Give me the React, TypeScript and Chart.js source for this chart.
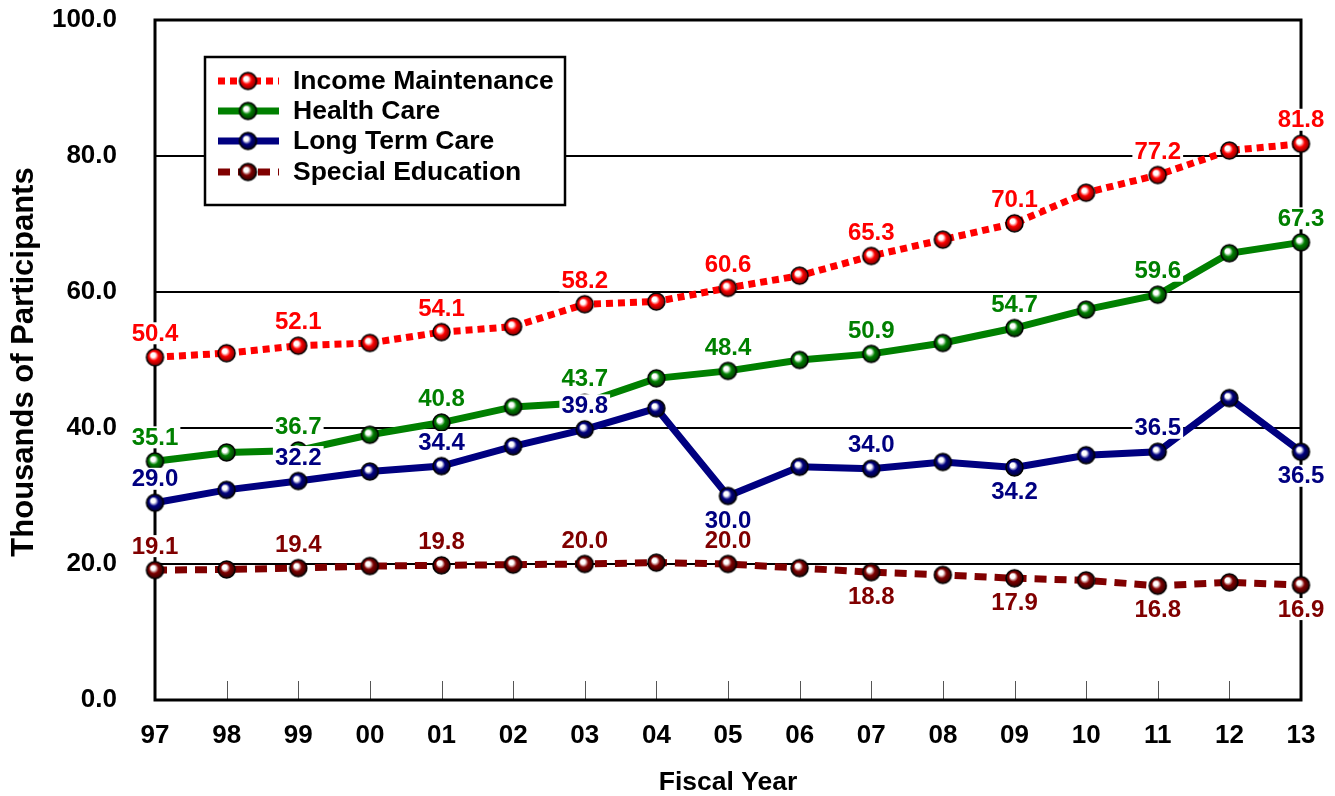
import React, { useEffect, useRef } from 'react';
import { Chart, registerables } from 'chart.js';

Chart.register(...registerables);

const FONT = "'Liberation Sans', Arial, sans-serif";

// ---- data ----
const fiscalYears = ['97', '98', '99', '00', '01', '02', '03', '04', '05', '06', '07', '08', '09', '10', '11', '12', '13'];
const incomeMaintenance = [50.4, 51.0, 52.1, 52.5, 54.1, 54.9, 58.2, 58.6, 60.6, 62.4, 65.3, 67.7, 70.1, 74.6, 77.2, 80.8, 81.8];
const healthCare = [35.1, 36.4, 36.7, 39.0, 40.8, 43.1, 43.7, 47.3, 48.4, 50.0, 50.9, 52.5, 54.7, 57.4, 59.6, 65.7, 67.3];
const longTermCare = [29.0, 30.9, 32.2, 33.6, 34.4, 37.3, 39.8, 42.9, 30.0, 34.3, 34.0, 35.0, 34.2, 36.0, 36.5, 44.4, 36.5];
const specialEducation = [19.1, 19.2, 19.4, 19.7, 19.8, 19.9, 20.0, 20.2, 20.0, 19.4, 18.8, 18.4, 17.9, 17.6, 16.8, 17.3, 16.9];
const yTickValues = [0, 20, 40, 60, 80, 100];

// label placement: 'a' = above point, 'b' = below point, '' = none
const imLabelPlace = ['a', '', 'a', '', 'a', '', 'a', '', 'a', '', 'a', '', 'a', '', 'a', '', 'a'];
const hcLabelPlace = ['a', '', 'a', '', 'a', '', 'a', '', 'a', '', 'a', '', 'a', '', 'a', '', 'a'];
const ltcLabelPlace = ['a', '', 'a', '', 'a', '', 'a', '', 'b', '', 'a', '', 'b', '', 'a', '', 'b'];
const seLabelPlace = ['a', '', 'a', '', 'a', '', 'a', '', 'a', '', 'b', '', 'b', '', 'b', '', 'b'];

const seriesDefs = [
  { label: 'Income Maintenance', data: incomeMaintenance, color: '#ff0000', dark: '#7a0000', dash: [7, 5], place: imLabelPlace },
  { label: 'Health Care', data: healthCare, color: '#008000', dark: '#003300', dash: [], place: hcLabelPlace },
  { label: 'Long Term Care', data: longTermCare, color: '#000080', dark: '#000030', dash: [], place: ltcLabelPlace },
  { label: 'Special Education', data: specialEducation, color: '#800000', dark: '#300000', dash: [12, 8], place: seLabelPlace },
];

// target plot-area frame
const TARGET = { left: 155, top: 20, right: 1301, bottom: 700 };

function makeBall(color: string, dark: string, r: number): HTMLCanvasElement {
  const c = document.createElement('canvas');
  const s = Math.ceil(r * 2 + 4);
  c.width = s;
  c.height = s;
  const ctx = c.getContext('2d')!;
  const cx = s / 2;
  const cy = s / 2;
  const g = ctx.createRadialGradient(cx - r * 0.3, cy - r * 0.35, 0, cx, cy, r);
  g.addColorStop(0, '#ffffff');
  g.addColorStop(0.28, '#ffffff');
  g.addColorStop(0.55, color);
  g.addColorStop(1, dark);
  ctx.beginPath();
  ctx.arc(cx, cy, r, 0, Math.PI * 2);
  ctx.fillStyle = g;
  ctx.fill();
  ctx.lineWidth = 1.5;
  ctx.strokeStyle = '#000';
  ctx.stroke();
  return c;
}

export default function App() {
  const ref = useRef<HTMLCanvasElement>(null);

  useEffect(() => {
    const canvas = ref.current!;
    const balls = seriesDefs.map((s) => makeBall(s.color, s.dark, 8.5));

    const datasets = seriesDefs.map((s, i) => ({
      label: s.label,
      data: s.data,
      borderColor: s.color,
      backgroundColor: s.color,
      borderWidth: 7,
      borderDash: s.dash,
      borderCapStyle: 'butt' as const,
      pointStyle: balls[i],
      pointRadius: 9,
      pointHoverRadius: 9,
      tension: 0,
      fill: false,
      clip: false as any,
    }));

    const overlay = {
      id: 'overlay',
      beforeDatasetsDraw(chart: any) {
        const { ctx, chartArea: a } = chart;
        const xs = chart.scales.x;
        ctx.save();
        ctx.strokeStyle = '#555';
        ctx.lineWidth = 1;
        for (let i = 1; i < fiscalYears.length - 1; i++) {
          const x = Math.round(xs.getPixelForValue(i)) + 0.5;
          ctx.beginPath();
          ctx.moveTo(x, a.bottom - 19);
          ctx.lineTo(x, a.bottom);
          ctx.stroke();
        }
        ctx.strokeStyle = '#000';
        ctx.lineWidth = 3;
        ctx.strokeRect(a.left, a.top, a.right - a.left, a.bottom - a.top);
        ctx.restore();
      },
      afterDatasetsDraw(chart: any) {
        const { ctx } = chart;
        ctx.save();
        ctx.font = `bold 24px ${FONT}`;
        ctx.textAlign = 'center';
        ctx.textBaseline = 'middle';
        seriesDefs.forEach((s, di) => {
          const meta = chart.getDatasetMeta(di);
          s.place.forEach((p, i) => {
            if (!p) return;
            const pt = meta.data[i];
            const txt = s.data[i].toFixed(1);
            const w = ctx.measureText(txt).width;
            const x = pt.x;
            const y = pt.y + (p === 'a' ? -24 : 24);
            ctx.fillStyle = '#ffffff';
            ctx.fillRect(x - w / 2 - 2, y - 11, w + 4, 22);
            ctx.fillStyle = s.color;
            ctx.fillText(txt, x, y + 1);
          });
        });

        const bx = 205, by = 57, bw = 360, bh = 148;
        ctx.fillStyle = '#fff';
        ctx.fillRect(bx, by, bw, bh);
        ctx.strokeStyle = '#000';
        ctx.lineWidth = 2.5;
        ctx.strokeRect(bx, by, bw, bh);
        ctx.font = `bold 26.5px ${FONT}`;
        ctx.textAlign = 'left';
        ctx.textBaseline = 'middle';
        const rows = [81, 111, 141, 172];
        seriesDefs.forEach((s, i) => {
          const y = rows[i];
          ctx.save();
          ctx.strokeStyle = s.color;
          ctx.lineWidth = 7;
          ctx.setLineDash(s.dash);
          ctx.beginPath();
          ctx.moveTo(218, y);
          ctx.lineTo(279, y);
          ctx.stroke();
          ctx.restore();
          const b = balls[i];
          ctx.drawImage(b, 248 - b.width / 2, y - b.height / 2);
          ctx.fillStyle = '#000';
          ctx.fillText(s.label, 293, y + 1);
        });
        ctx.restore();
      },
      afterDraw(chart: any) {
        const { ctx, chartArea: a } = chart;
        ctx.save();
        ctx.fillStyle = '#000';
        ctx.font = `bold 31px ${FONT}`;
        ctx.textAlign = 'center';
        ctx.textBaseline = 'middle';
        ctx.translate(24, 362);
        ctx.rotate(-Math.PI / 2);
        ctx.fillText('Thousands of Participants', 0, 0);
        ctx.restore();
        ctx.save();
        ctx.fillStyle = '#000';
        ctx.font = `bold 26.5px ${FONT}`;
        ctx.textAlign = 'center';
        ctx.textBaseline = 'alphabetic';
        ctx.fillText('Fiscal Year', (a.left + a.right) / 2, 790);
        ctx.restore();
      },
    };

    const padding = { top: 20, right: 34, left: 0, bottom: 0 };

    const chart = new Chart(canvas, {
      type: 'line',
      data: { labels: fiscalYears, datasets },
      options: {
        animation: false,
        responsive: false,
        events: [],
        layout: { padding },
        plugins: { legend: { display: false }, tooltip: { enabled: false } },
        scales: {
          x: {
            offset: false,
            grid: { display: false, drawTicks: false },
            border: { display: false },
            ticks: {
              font: { family: FONT, size: 26, weight: 'bold' },
              color: '#000',
              padding: 20,
              maxRotation: 0,
              autoSkip: false,
            },
            afterFit(s: any) {
              s.height = 96;
              s.paddingLeft = 0;
              s.paddingRight = 0;
            },
          },
          y: {
            min: 0,
            max: 100,
            afterBuildTicks(s: any) {
              s.ticks = yTickValues.map((v) => ({ value: v }));
            },
            grid: {
              color: (c: any) => (c.tick && c.tick.value > 0 && c.tick.value < 100 ? '#000' : 'rgba(0,0,0,0)'),
              lineWidth: 2,
              drawTicks: false,
            },
            border: { display: false },
            ticks: {
              callback: (v: any) => Number(v).toFixed(1),
              font: { family: FONT, size: 26, weight: 'bold' },
              color: '#000',
              padding: 38,
            },
            afterFit(s: any) {
              s.width = 155;
              s.paddingTop = 0;
              s.paddingBottom = 0;
            },
          },
        },
      },
      plugins: [overlay],
    });

    // nudge layout padding so the plot frame lands exactly where the reference has it
    for (let k = 0; k < 4; k++) {
      const a = chart.chartArea;
      const dTop = a.top - TARGET.top;
      const dRight = a.right - TARGET.right;
      if (Math.abs(dTop) < 0.5 && Math.abs(dRight) < 0.5) break;
      padding.top -= dTop;
      padding.right += dRight;
      (chart.options as any).layout.padding = { ...padding };
      chart.update();
    }

    return () => chart.destroy();
  }, []);

  return (
    <div style={{ position: 'fixed', left: 0, top: 0, width: 1335, height: 796, background: '#fff' }}>
      <canvas ref={ref} width={1335} height={796} style={{ display: 'block' }} />
    </div>
  );
}
